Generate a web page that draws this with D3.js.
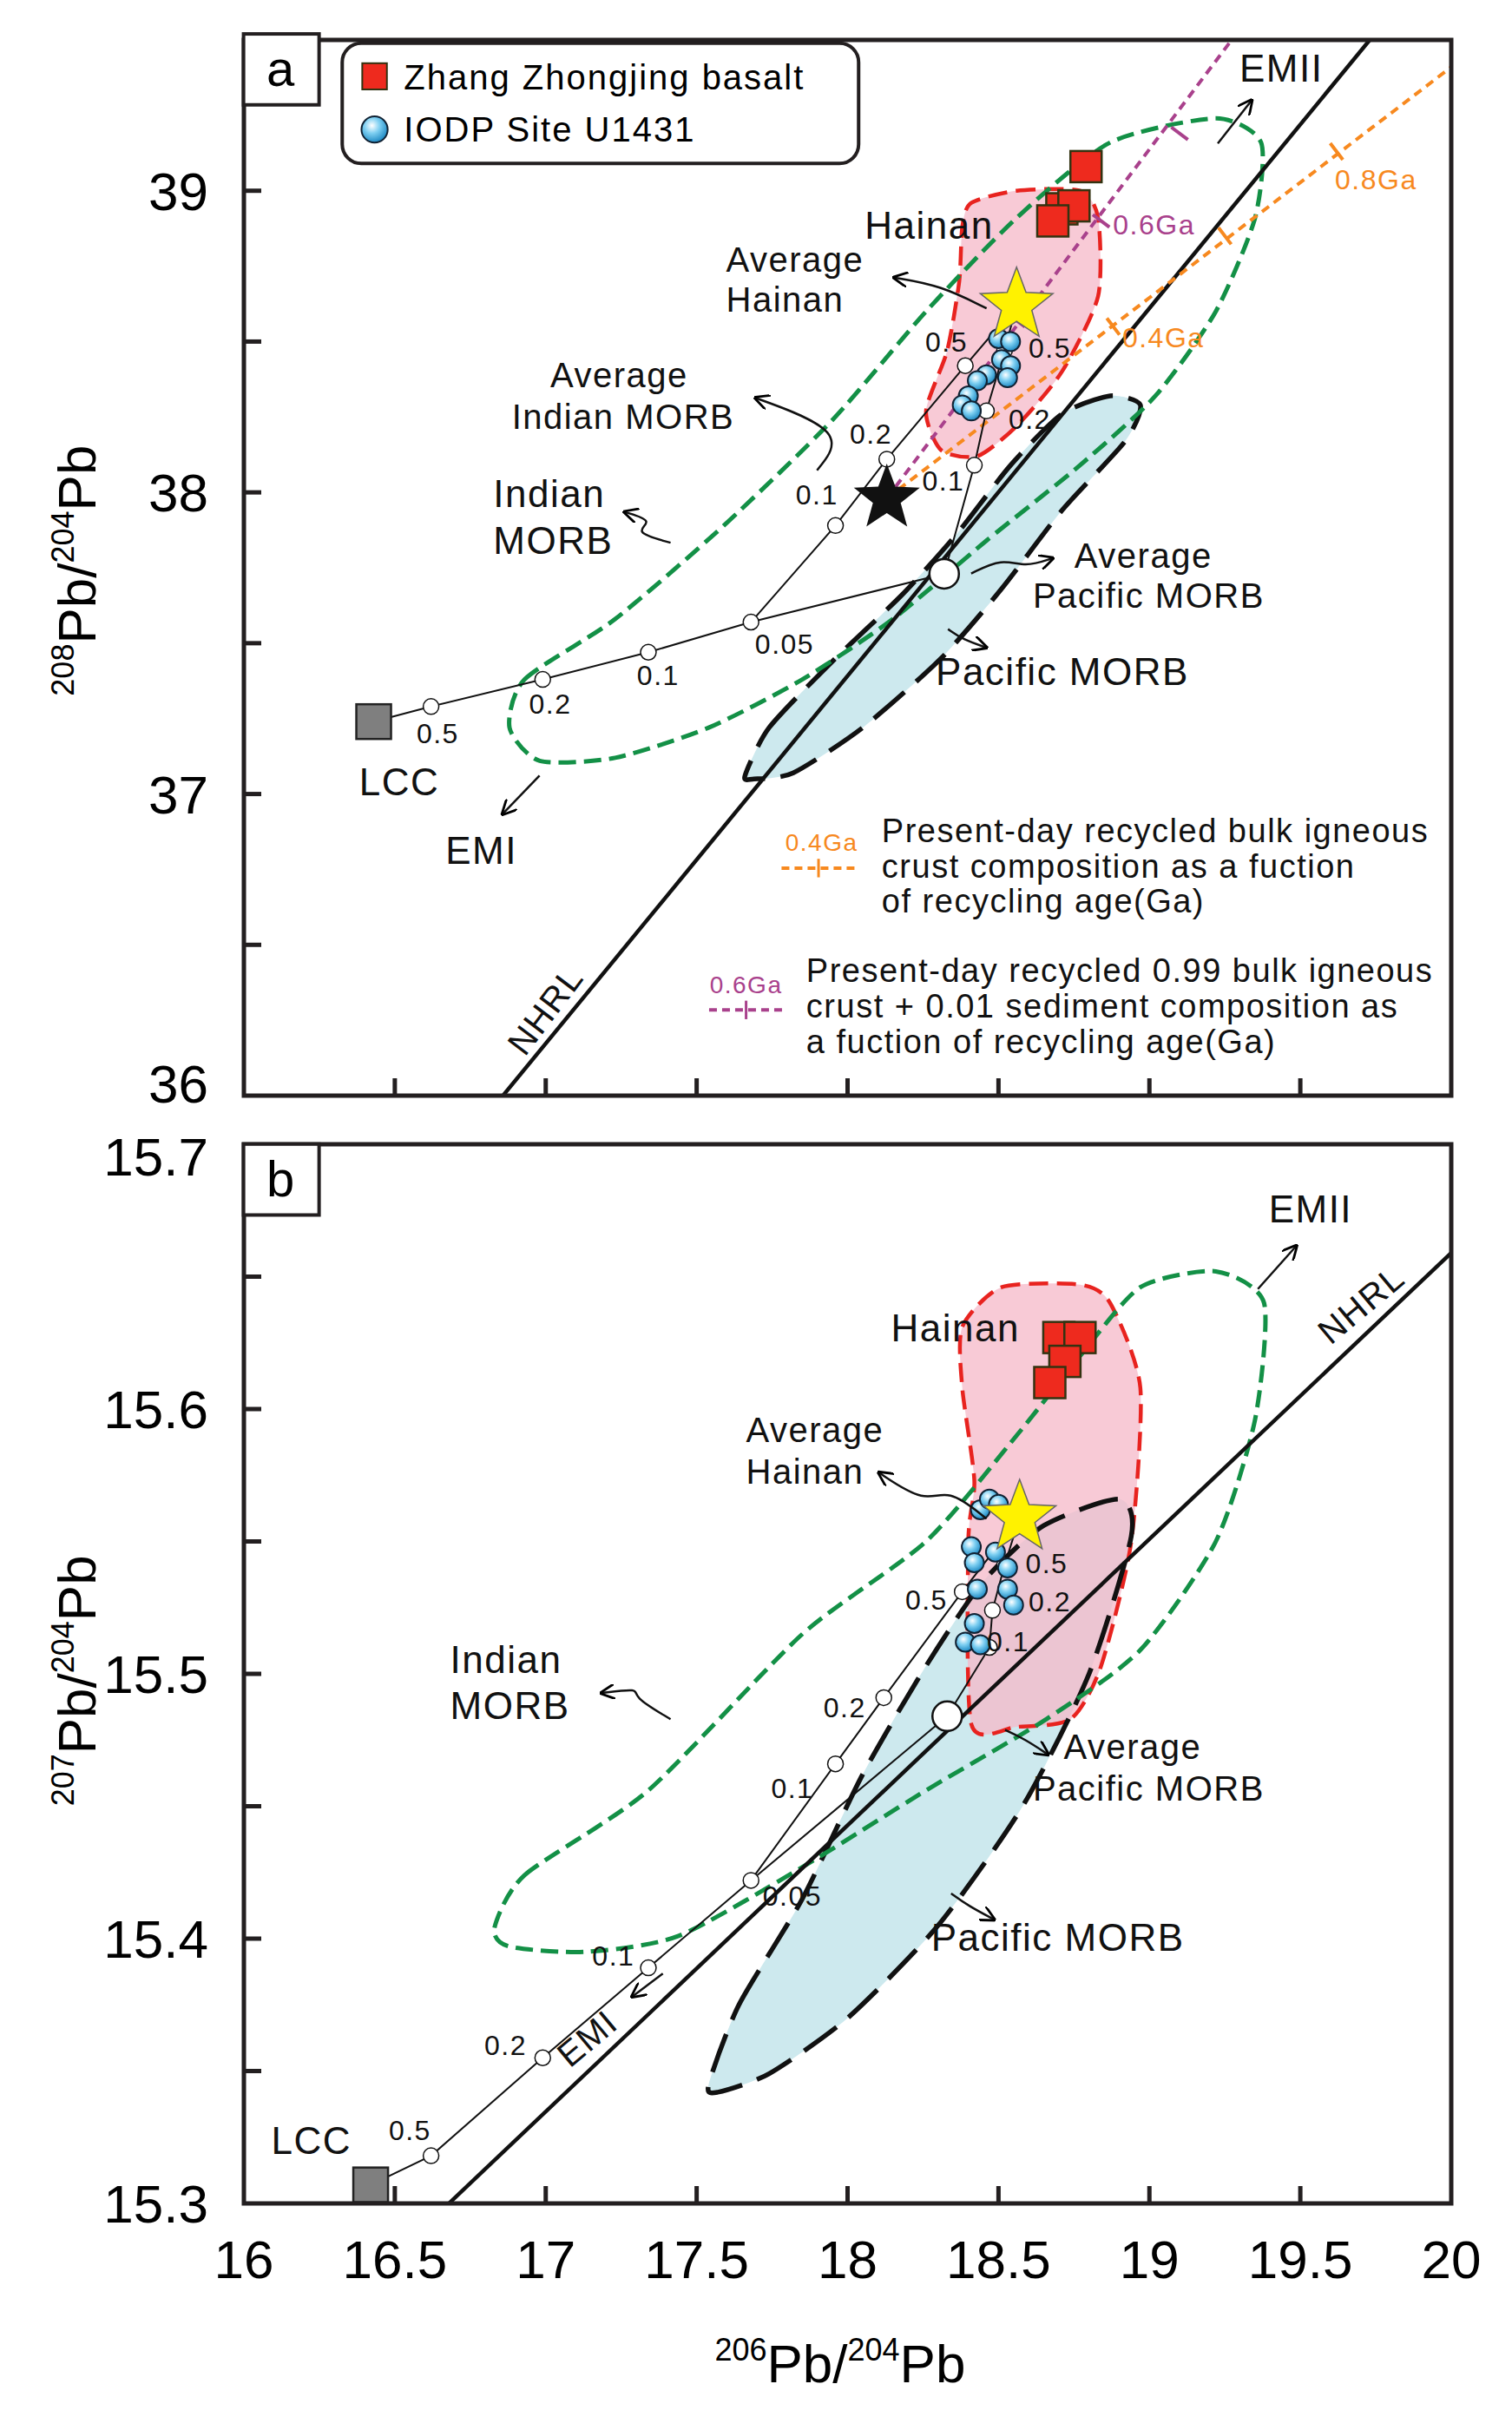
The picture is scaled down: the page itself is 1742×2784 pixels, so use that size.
<!DOCTYPE html>
<html><head><meta charset="utf-8">
<script src="https://cdn.jsdelivr.net/npm/d3@7"></script>
<style>body{margin:0;background:#fff}svg{display:block}</style>
</head><body>
<div id="chart"></div>
<script>
const W = 1742, H = 2784;
const S = 1.776; // layout scale for annotation placement
const P = v => v * S;

// ---- panel a data (206Pb/204Pb, 208Pb/204Pb) ----
const zhangA = [[18.79,39.08],[18.71,38.94],[18.75,38.95],[18.68,38.90]];
const iodpA = [[18.50,38.51],[18.54,38.50],[18.51,38.44],[18.54,38.42],[18.53,38.38],[18.46,38.39],[18.43,38.37],[18.40,38.32],[18.38,38.29],[18.41,38.27]];
const avgHainanA = [18.56,38.62];
const avgIndianA = [18.13,37.98];
const avgPacificA = [18.32,37.73];
const lccA = [16.43,37.24];
const mixA1 = [[16.62,37.29],[16.99,37.38],[17.34,37.47],[17.68,37.57]];
const mixA2 = [[17.96,37.89],[18.13,38.11],[18.39,38.42]];
const mixA3 = [[18.42,38.09],[18.46,38.27],[18.52,38.47]];
const nhrlA = [[16.85,35.99],[19.73,39.50]];
const orangeA = [[18.13,37.98],[20,39.41]];
const orangeTicksA = [[18.88,38.55],[19.25,38.85],[19.62,39.13]];
const purpleA = [[18.13,37.98],[19.28,39.51]];
const purpleTicksA = [[18.56,38.57],[18.84,38.90],[19.10,39.19]];
const pacificA = [[17.66,37.06],[17.74,37.22],[17.95,37.44],[18.18,37.66],[18.36,37.86],[18.54,38.09],[18.71,38.26],[18.87,38.32],[18.97,38.29],[18.92,38.17],[18.71,37.94],[18.51,37.68],[18.31,37.45],[18.05,37.22],[17.82,37.07],[17.69,37.05]];
const indianA = [[16.88,37.22],[16.93,37.38],[17.23,37.58],[17.59,37.89],[17.95,38.24],[18.26,38.60],[18.56,38.91],[18.87,39.16],[19.22,39.24],[19.37,39.16],[19.35,38.91],[19.22,38.60],[19.02,38.32],[18.77,38.09],[18.46,37.84],[18.15,37.58],[17.85,37.38],[17.54,37.22],[17.23,37.12],[16.98,37.11]];
const hainanA = [[18.41,38.96],[18.56,39.00],[18.77,39.00],[18.83,38.91],[18.83,38.65],[18.71,38.40],[18.56,38.22],[18.43,38.12],[18.31,38.14],[18.26,38.27],[18.33,38.47],[18.37,38.70],[18.38,38.88]];

// ---- panel b data (206Pb/204Pb, 207Pb/204Pb) ----
const zhangB = [[18.70,15.627],[18.77,15.627],[18.72,15.618],[18.67,15.610]];
const iodpB = [[18.44,15.562],[18.47,15.566],[18.50,15.564],[18.41,15.548],[18.42,15.542],[18.49,15.546],[18.53,15.540],[18.43,15.532],[18.53,15.532],[18.55,15.526],[18.42,15.519],[18.39,15.512],[18.44,15.511]];
const avgHainanB = [18.57,15.559];
const avgPacificB = [18.33,15.484];
const lccB = [16.42,15.307];
const mixB1 = [[16.62,15.318],[16.99,15.355],[17.34,15.389],[17.68,15.422]];
const mixB2 = [[17.96,15.466],[18.12,15.491],[18.38,15.531]];
const mixB3 = [[18.47,15.510],[18.48,15.524],[18.52,15.541]];
const nhrlB = [[16.67,15.299],[20,15.659]];
const pacificB = [[17.54,15.345],[17.64,15.375],[17.85,15.415],[18.05,15.462],[18.26,15.503],[18.45,15.535],[18.65,15.556],[18.90,15.566],[18.94,15.552],[18.80,15.500],[18.58,15.450],[18.30,15.405],[18.00,15.370],[17.74,15.349],[17.57,15.342]];
const indianB = [[16.83,15.404],[16.93,15.424],[17.34,15.456],[17.85,15.515],[18.26,15.550],[18.56,15.590],[18.77,15.620],[18.97,15.646],[19.22,15.652],[19.38,15.640],[19.35,15.596],[19.22,15.550],[18.97,15.509],[18.66,15.483],[18.26,15.456],[17.85,15.427],[17.44,15.401],[17.13,15.395],[16.88,15.397]];
const hainanB = [[18.38,15.631],[18.51,15.646],[18.77,15.647],[18.87,15.640],[18.97,15.608],[18.94,15.550],[18.84,15.503],[18.74,15.483],[18.56,15.480],[18.41,15.481],[18.40,15.550],[18.42,15.573],[18.38,15.608]];

const xTicks = [16,16.5,17,17.5,18,18.5,19,19.5,20];
const yTicksA = [36,37,38,39];
const yTicksB = [15.3,15.4,15.5,15.6,15.7];

const FONT = "'Liberation Sans Narrow','Arial Narrow','Liberation Sans',Arial,sans-serif";
const FONT2 = "'Liberation Sans',Arial,sans-serif";

const svg = d3.select("#chart").append("svg").attr("width", W).attr("height", H);
const defs = svg.append("defs");
const grad = defs.append("radialGradient").attr("id","ball").attr("cx","40%").attr("cy","35%").attr("r","65%");
grad.append("stop").attr("offset","0%").attr("stop-color","#ffffff");
grad.append("stop").attr("offset","45%").attr("stop-color","#7fd0f2");
grad.append("stop").attr("offset","100%").attr("stop-color","#1f8ac4");
defs.append("marker").attr("id","arr").attr("viewBox","0 0 10 10").attr("refX",9).attr("refY",5)
  .attr("markerWidth",7).attr("markerHeight",7).attr("orient","auto-start-reverse")
  .append("path").attr("d","M0,0L10,5L0,10").attr("fill","none").attr("stroke","#000").attr("stroke-width",1.6);

const x = d3.scaleLinear().domain([16,20]).range([281,1672]);
const yA = d3.scaleLinear().domain([36,39.5]).range([1262,46]);
const yB = d3.scaleLinear().domain([15.3,15.7]).range([2538,1318]);

function starPath(r){
  const pts=[];
  for(let i=0;i<10;i++){const a=-Math.PI/2+i*Math.PI/5;const rr=i%2?r*0.42:r;pts.push([rr*Math.cos(a),rr*Math.sin(a)]);}
  return "M"+pts.join("L")+"Z";
}

function panel(y, d, tickStep, yt, yFmt, labShift){
  const g = svg.append("g");
  const cl = "clip"+Math.round(y.range()[1]);
  defs.append("clipPath").attr("id",cl).append("rect")
    .attr("x",x.range()[0]).attr("y",y.range()[1]).attr("width",x.range()[1]-x.range()[0]).attr("height",y.range()[0]-y.range()[1]);
  const inner = g.append("g").attr("clip-path",`url(#${cl})`);
  const line = d3.line().x(p=>x(p[0])).y(p=>y(p[1]));
  const closed = d3.line().x(p=>x(p[0])).y(p=>y(p[1])).curve(d3.curveCardinalClosed.tension(0.3));

  inner.append("path").attr("d",closed(d.pac)).attr("fill","#cde9ee").attr("stroke","none");
  inner.append("path").attr("d",closed(d.hai)).attr("fill","#f5b8c8").attr("fill-opacity",0.75).attr("stroke","#e8231f").attr("stroke-width",4.5).attr("stroke-dasharray","22,10");
  inner.append("path").attr("d",closed(d.pac)).attr("fill","none").attr("stroke","#111").attr("stroke-width",5.5).attr("stroke-dasharray","46,18");
  inner.append("path").attr("d",closed(d.ind)).attr("fill","none").attr("stroke","#139046").attr("stroke-width",5).attr("stroke-dasharray","20,9");

  inner.append("path").attr("d",line(d.nhrl)).attr("stroke","#111").attr("stroke-width",4.5).attr("fill","none");
  if(d.orange){
    inner.append("path").attr("d",line(d.orange)).attr("stroke","#f7891f").attr("stroke-width",4).attr("stroke-dasharray","10,7").attr("fill","none");
    inner.append("path").attr("d",line(d.purple)).attr("stroke","#a9418c").attr("stroke-width",4).attr("stroke-dasharray","10,7").attr("fill","none");
    const tk=(pts,c,ref)=>{const ang=Math.atan2(y(ref[1][1])-y(ref[0][1]),x(ref[1][0])-x(ref[0][0]));
      pts.forEach(p=>inner.append("line").attr("x1",x(p[0])-12*Math.sin(ang)).attr("y1",y(p[1])+12*Math.cos(ang))
        .attr("x2",x(p[0])+12*Math.sin(ang)).attr("y2",y(p[1])-12*Math.cos(ang)).attr("stroke",c).attr("stroke-width",4));};
    tk(d.oT,"#f7891f",d.orange); tk(d.pT,"#a9418c",d.purple);
  }
  const m1=[d.lcc,...d.m1,d.pacAvg], m2=[d.m1[3],...d.m2,d.hAvg], m3=[d.pacAvg,...d.m3,d.hAvg];
  [m1,m2,m3].forEach(m=>inner.append("path").attr("d",line(m)).attr("stroke","#111").attr("stroke-width",2).attr("fill","none"));
  [...d.m1,...d.m2,...d.m3].forEach(p=>inner.append("circle").attr("cx",x(p[0])).attr("cy",y(p[1])).attr("r",9).attr("fill","#fff").attr("stroke","#111").attr("stroke-width",1.5));
  inner.append("rect").attr("x",x(d.lcc[0])-20).attr("y",y(d.lcc[1])-20).attr("width",40).attr("height",40).attr("fill","#7f7f7f").attr("stroke","#222").attr("stroke-width",2.5);
  inner.append("circle").attr("cx",x(d.pacAvg[0])).attr("cy",y(d.pacAvg[1])).attr("r",17).attr("fill","#fff").attr("stroke","#111").attr("stroke-width",2.5);
  if(d.iAvg) inner.append("path").attr("d",starPath(40)).attr("transform",`translate(${x(d.iAvg[0])},${y(d.iAvg[1])})`).attr("fill","#111");
  d.zh.forEach(p=>inner.append("rect").attr("x",x(p[0])-18).attr("y",y(p[1])-18).attr("width",36).attr("height",36).attr("fill","#ee2a1e").attr("stroke","#331").attr("stroke-width",2.5));
  d.io.forEach(p=>inner.append("circle").attr("cx",x(p[0])).attr("cy",y(p[1])).attr("r",11).attr("fill","url(#ball)").attr("stroke","#123").attr("stroke-width",2));
  inner.append("path").attr("d",starPath(44)).attr("transform",`translate(${x(d.hAvg[0])},${y(d.hAvg[1])})`).attr("fill","#fff200").attr("stroke","#666").attr("stroke-width",1.5);

  g.append("rect").attr("x",x.range()[0]).attr("y",y.range()[1]).attr("width",x.range()[1]-x.range()[0]).attr("height",y.range()[0]-y.range()[1]).attr("fill","none").attr("stroke","#231f20").attr("stroke-width",5);
  const bot=y.range()[0];
  xTicks.slice(1,-1).forEach(t=>g.append("line").attr("x1",x(t)).attr("x2",x(t)).attr("y1",bot).attr("y2",bot-20).attr("stroke","#231f20").attr("stroke-width",5));
  d3.range(y.domain()[0]+tickStep, y.domain()[1]-1e-6, tickStep).forEach(t=>g.append("line").attr("x1",x.range()[0]).attr("x2",x.range()[0]+20).attr("y1",y(t)).attr("y2",y(t)).attr("stroke","#231f20").attr("stroke-width",5));
  yt.forEach(t=>g.append("text").attr("x",240).attr("y",y(t)+(labShift[t]||0)).attr("dy","0.36em").attr("text-anchor","end").attr("font-family",FONT2).attr("font-size",62).text(yFmt(t)));
  return g;
}

panel(yA,{pac:pacificA,hai:hainanA,ind:indianA,nhrl:nhrlA,orange:orangeA,purple:purpleA,oT:orangeTicksA,pT:purpleTicksA,
  lcc:lccA,m1:mixA1,m2:mixA2,m3:mixA3,pacAvg:avgPacificA,hAvg:avgHainanA,iAvg:avgIndianA,zh:zhangA,io:iodpA},0.5,yTicksA,d3.format("d"),{36:-14});
panel(yB,{pac:pacificB,hai:hainanB,ind:indianB,nhrl:nhrlB,
  lcc:lccB,m1:mixB1,m2:mixB2,m3:mixB3,pacAvg:avgPacificB,hAvg:avgHainanB,zh:zhangB,io:iodpB},0.05,yTicksB,d3.format(".1f"),{15.7:14});

xTicks.forEach(t=>svg.append("text").attr("x",x(t)).attr("y",P(1465)).attr("dy","0.36em").attr("text-anchor","middle").attr("font-family",FONT2).attr("font-size",62).text(t));

function iso(g, xx, yy, sup, rot){
  const t=g.append("text").attr("font-family",FONT2).attr("font-size",62).attr("text-anchor","middle")
    .attr("transform",`translate(${xx},${yy}) rotate(${rot})`);
  t.append("tspan").attr("font-size",36).attr("baseline-shift","70%").text(sup[0]);
  t.append("tspan").text("Pb/");
  t.append("tspan").attr("font-size",36).attr("baseline-shift","70%").text(sup[1]);
  t.append("tspan").text("Pb");
}
iso(svg, P(545), P(1545), ["206","204"], 0);
iso(svg, P(62), P(370), ["208","204"], -90);
iso(svg, P(62), P(1090), ["207","204"], -90);

[[22,"a"],[742,"b"]].forEach(([yy,l])=>{
  svg.append("rect").attr("x",P(158)).attr("y",P(yy)).attr("width",P(49)).attr("height",P(46)).attr("fill","#fff").attr("stroke","#231f20").attr("stroke-width",4);
  svg.append("text").attr("x",P(182)).attr("y",P(yy+34)).attr("text-anchor","middle").attr("font-family",FONT2).attr("font-size",58).text(l);
});

svg.append("rect").attr("x",P(222)).attr("y",P(28)).attr("width",P(335)).attr("height",P(78)).attr("rx",22).attr("fill","#fff").attr("stroke","#231f20").attr("stroke-width",4);
svg.append("rect").attr("x",P(235)).attr("y",P(41)).attr("width",P(16)).attr("height",P(17)).attr("fill","#ee2a1e").attr("stroke","#331").attr("stroke-width",2);
svg.append("circle").attr("cx",P(243)).attr("cy",P(84)).attr("r",P(8.5)).attr("fill","url(#ball)").attr("stroke","#123").attr("stroke-width",2);
svg.append("text").attr("x",P(262)).attr("y",P(58)).attr("font-family",FONT).attr("font-size",40).attr("letter-spacing",2).text("Zhang Zhongjing basalt");
svg.append("text").attr("x",P(262)).attr("y",P(92)).attr("font-family",FONT).attr("font-size",40).attr("letter-spacing",2).text("IODP Site U1431");

function txt(tx,ty,s,size,col,anchor,rot){
  return svg.append("text").attr("font-family",FONT).attr("font-size",size||42).attr("fill",col||"#111").attr("letter-spacing",1.5)
    .attr("text-anchor",anchor||"start").attr("transform",`translate(${P(tx)},${P(ty)}) rotate(${rot||0})`).text(s);
}
// panel a
txt(561,155,"Hainan",44); txt(471,176,"Average",40); txt(471,202,"Hainan",40);
txt(357,251,"Average",40); txt(332,278,"Indian MORB",40);
txt(320,329,"Indian",44); txt(320,359,"MORB",44);
txt(697,368,"Average",40); txt(670,394,"Pacific MORB",40);
txt(607,444,"Pacific MORB",44);
txt(233,516,"LCC",44); txt(289,560,"EMI",44); txt(804,53,"EMII",44);
txt(360,660,"NHRL",40,"#111","middle",-53);
txt(866,123,"0.8Ga",32,"#f7891f"); txt(728,225,"0.4Ga",32,"#f7891f"); txt(722,152,"0.6Ga",32,"#a9418c");
[["0.5",284,482],["0.2",357,463],["0.1",427,444],["0.05",509,424],["0.1",530,327],["0.2",565,288],["0.5",614,228],["0.1",612,318],["0.2",668,278],["0.5",681,232]]
  .forEach(([s,a,b])=>txt(a,b,s,32,"#111","middle"));
txt(533,552,"0.4Ga",28,"#f7891f","middle");
svg.append("line").attr("x1",P(507)).attr("x2",P(555)).attr("y1",P(563)).attr("y2",P(563)).attr("stroke","#f7891f").attr("stroke-width",4).attr("stroke-dasharray","9,6");
svg.append("line").attr("x1",P(531)).attr("x2",P(531)).attr("y1",P(557)).attr("y2",P(569)).attr("stroke","#f7891f").attr("stroke-width",3);
txt(572,546,"Present-day recycled bulk igneous",38); txt(572,569,"crust composition as a fuction",38); txt(572,592,"of recycling age(Ga)",38);
txt(484,644,"0.6Ga",28,"#a9418c","middle");
svg.append("line").attr("x1",P(460)).attr("x2",P(508)).attr("y1",P(655)).attr("y2",P(655)).attr("stroke","#a9418c").attr("stroke-width",4).attr("stroke-dasharray","9,6");
svg.append("line").attr("x1",P(484)).attr("x2",P(484)).attr("y1",P(649)).attr("y2",P(661)).attr("stroke","#a9418c").attr("stroke-width",3);
txt(523,637,"Present-day recycled 0.99 bulk igneous",38); txt(523,660,"crust + 0.01 sediment composition as",38); txt(523,683,"a fuction of recycling age(Ga)",38);
// panel b
txt(578,870,"Hainan",44); txt(484,935,"Average",40); txt(484,962,"Hainan",40);
txt(292,1085,"Indian",44); txt(292,1115,"MORB",44);
txt(690,1141,"Average",40); txt(670,1168,"Pacific MORB",40);
txt(604,1265,"Pacific MORB",44);
txt(176,1397,"LCC",44); txt(823,793,"EMII",44);
txt(888,852,"NHRL",40,"#111","middle",-40); txt(386,1328,"EMI",40,"#111","middle",-40);
[["0.5",266,1388],["0.2",328,1333],["0.1",398,1275],["0.05",514,1236],["0.1",514,1166],["0.2",548,1114],["0.5",601,1044],["0.1",654,1071],["0.2",681,1045],["0.5",679,1020]]
  .forEach(([s,a,b])=>txt(a,b,s,32,"#111","middle"));

function arr(pts){
  const l=d3.line().curve(d3.curveBasis);
  svg.append("path").attr("d",l(pts.map(p=>[P(p[0]),P(p[1])]))).attr("fill","none").attr("stroke","#111").attr("stroke-width",2.5).attr("marker-end","url(#arr)");
}
arr([[790,93],[812,65]]); arr([[350,503],[326,528]]);
arr([[640,200],[610,185],[580,180]]);
arr([[530,305],[550,280],[490,258]]);
arr([[435,352],[410,345],[425,338],[405,332]]);
arr([[630,372],[650,362],[665,368],[683,362]]);
arr([[615,408],[625,415],[640,420]]);
arr([[816,836],[841,808]]);
arr([[640,985],[615,965],[600,975],[570,955]]);
arr([[435,1115],[410,1100],[415,1095],[390,1098]]);
arr([[652,1122],[665,1128],[680,1138]]);
arr([[617,1228],[628,1236],[645,1245]]);
arr([[430,1280],[410,1295]]);
</script>
</body></html>
